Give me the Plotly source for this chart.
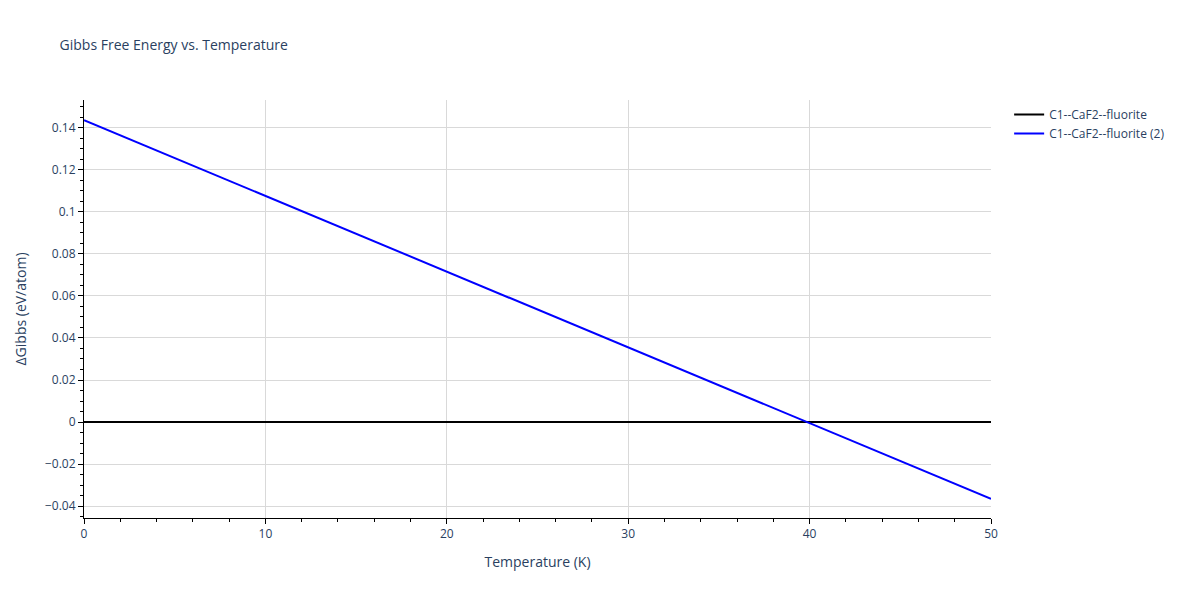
import plotly.graph_objects as go

# Temperature (K) and delta Gibbs values (eV/atom)
temperature = [0, 10, 20, 30, 40, 50]
gibbs_ref = [0, 0, 0, 0, 0, 0]
gibbs_alt = [0.1437, 0.1077, 0.0716, 0.0355, -0.0005, -0.0366]

fig = go.Figure()
fig.add_trace(go.Scatter(x=temperature, y=gibbs_ref, mode='lines',
                         line=dict(color='black', width=2),
                         name='C1--CaF2--fluorite'))
fig.add_trace(go.Scatter(x=temperature, y=gibbs_alt, mode='lines',
                         line=dict(color='blue', width=2),
                         name='C1--CaF2--fluorite (2)'))

axis_style = dict(showline=True, linecolor='black', linewidth=1,
                  gridcolor='#d9d9d9', zeroline=False, ticks='outside',
                  minor=dict(ticks='outside', ticklen=3, tickcolor='black'),
                  tickcolor='black')

fig.update_layout(
    template='plotly_white',
    width=1200, height=600,
    title=dict(text='Gibbs Free Energy vs. Temperature', x=0.043, xanchor='left',
               y=0.938, yanchor='middle', font=dict(size=14)),
    margin=dict(l=73, r=217, t=92, b=90),
    xaxis=dict(title='Temperature (K)', range=[0, 50], dtick=10, **axis_style),
    yaxis=dict(title='ΔGibbs (eV/atom)', range=[-0.0457, 0.1533], dtick=0.02,
               **axis_style),
    legend=dict(x=1.02, y=1, xanchor='left', yanchor='top'),
)

fig.write_html("out.html")
